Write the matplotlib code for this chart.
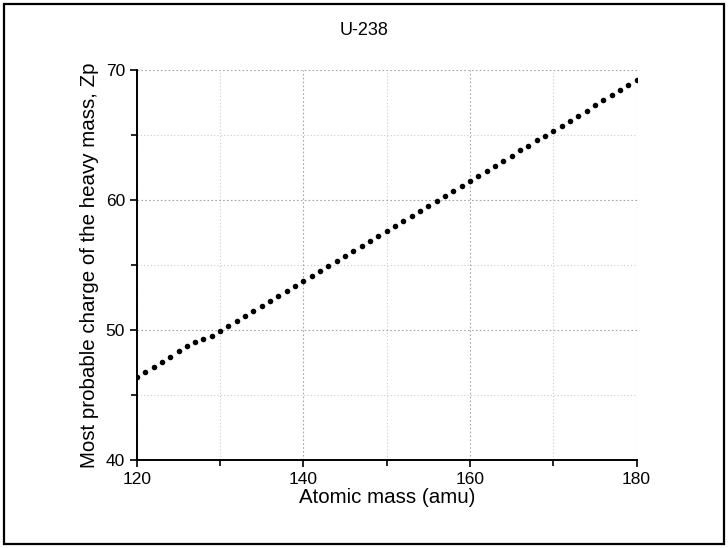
import numpy as np
import matplotlib.pyplot as plt
from matplotlib.patches import Rectangle
from matplotlib.ticker import MultipleLocator

plt.rcParams['font.family'] = ['Liberation Sans', 'DejaVu Sans']

# Атомная масса (amu)
mass = np.arange(120, 181, 1)
# Наиболее вероятный заряд тяжелого осколка, Zp
zp = [46.40, 46.75, 47.18, 47.56, 47.95, 48.38, 48.77, 49.10, 49.28, 49.56,
      49.89, 50.28, 50.67, 51.05, 51.44, 51.82, 52.20, 52.60, 52.98, 53.38,
      53.77, 54.15, 54.54, 54.92, 55.31, 55.69, 56.08, 56.46, 56.85, 57.23,
      57.62, 58.00, 58.38, 58.77, 59.15, 59.54, 59.92, 60.31, 60.69, 61.08,
      61.49, 61.87, 62.25, 62.64, 63.02, 63.41, 63.82, 64.18, 64.59, 64.95,
      65.33, 65.72, 66.10, 66.48, 66.87, 67.28, 67.67, 68.05, 68.44, 68.82,
      69.20]

fig = plt.figure(figsize=(7.28, 5.48), dpi=100)
ax = fig.add_axes([0.188, 0.1606, 0.6864, 0.7117])

# Рамка вокруг всей картинки
fig.patches.append(Rectangle((0.005, 0.008), 0.99, 0.984, transform=fig.transFigure,
                             fill=False, edgecolor='black', linewidth=1.6))

ax.plot(mass, zp, 'o', color='black', markersize=4, markeredgewidth=0)

ax.set_xlim(120, 180)
ax.set_ylim(40, 70)
ax.xaxis.set_major_locator(MultipleLocator(20))
ax.xaxis.set_minor_locator(MultipleLocator(10))
ax.yaxis.set_major_locator(MultipleLocator(10))
ax.yaxis.set_minor_locator(MultipleLocator(5))

# Сетка
ax.grid(which='major', color='0.65', linestyle=(0, (1.5, 2)), linewidth=0.8)
ax.grid(which='minor', color='0.8', linestyle=(0, (1, 2)), linewidth=0.8)

for s in ['top', 'right']:
    ax.spines[s].set_visible(False)
for s in ['left', 'bottom']:
    ax.spines[s].set_linewidth(1.4)

ax.tick_params(which='major', direction='out', length=5, width=1.2, labelsize=12.5)
ax.tick_params(which='minor', direction='out', length=4, width=1.2)

ax.set_xlabel('Atomic mass (amu)', fontsize=14.8, labelpad=1)
ax.set_ylabel('Most probable charge of the heavy mass, Zp', fontsize=14.8, labelpad=5)
fig.text(0.5, 0.945, 'U-238', ha='center', va='center', fontsize=13)

plt.savefig('out.png', dpi=100)
